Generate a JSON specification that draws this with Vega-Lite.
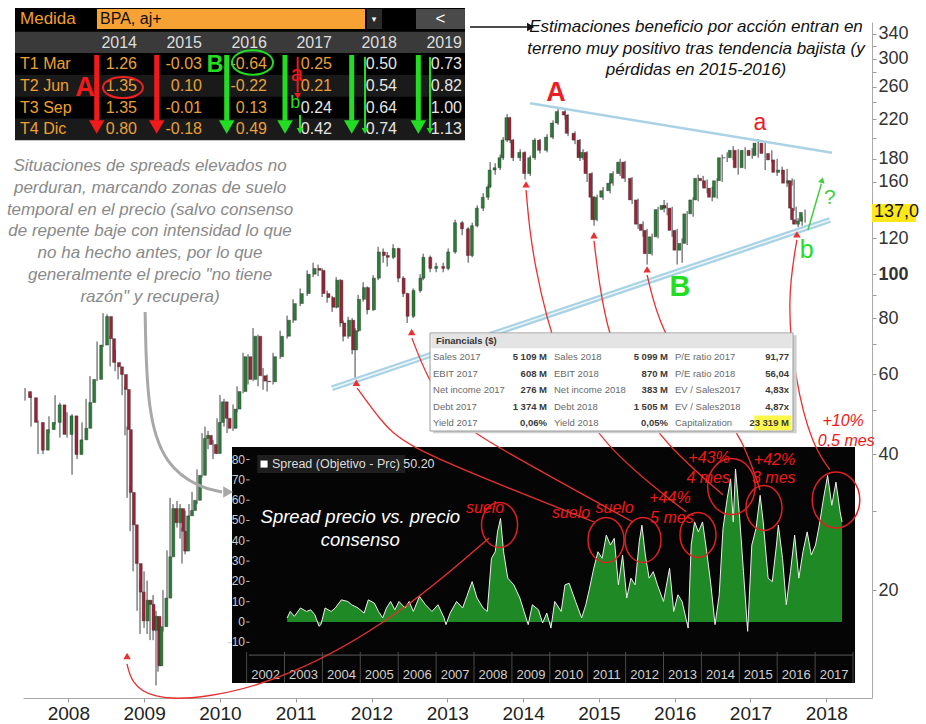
{
"$schema":"https://vega.github.io/schema/vega-lite/v6.json",
"width":849,"height":676,
"autosize":{"type":"none"},
"padding":{"left":23,"top":22,"right":54,"bottom":26},
"background":"white",
"config":{"view":{"stroke":null},"font":"Liberation Sans Narrow, Arial Narrow, Liberation Sans, sans-serif"},
"datasets":{
"candles":[
{"t":2007.429,"o":55,"h":56,"l":52.5,"c":53.3},{"t":2007.508,"o":53.3,"h":54,"l":46,"c":47},{"t":2007.6,"o":47,"h":47.5,"l":40,"c":40.8},{"t":2007.666,"o":40.8,"h":46,"l":40,"c":45.3},{"t":2007.745,"o":45.3,"h":48.5,"l":44.5,"c":47},{"t":2007.825,"o":47,"h":54,"l":46.5,"c":51.4},{"t":2007.889,"o":51.4,"h":52,"l":43.5,"c":44.2},{"t":2007.983,"o":44.2,"h":49.5,"l":43.5,"c":48.6},{"t":2008.049,"o":48.6,"h":49,"l":36,"c":39.9},{"t":2008.115,"o":39.9,"h":44,"l":39,"c":43},{"t":2008.181,"o":43,"h":47,"l":42.5,"c":45.6},{"t":2008.234,"o":45.6,"h":53,"l":45,"c":52},{"t":2008.286,"o":52,"h":59.5,"l":51.5,"c":58.5},{"t":2008.379,"o":58.5,"h":71,"l":58,"c":69.7},{"t":2008.458,"o":69.7,"h":82,"l":69,"c":80.6},{"t":2008.511,"o":80.6,"h":81.5,"l":71,"c":72},{"t":2008.551,"o":72,"h":73,"l":62.5,"c":63.8},{"t":2008.617,"o":63.8,"h":68,"l":61,"c":62.4},{"t":2008.656,"o":62.4,"h":63,"l":58.5,"c":60},{"t":2008.709,"o":60,"h":61,"l":54,"c":55.6},{"t":2008.748,"o":55.6,"h":56.5,"l":44,"c":45.3},{"t":2008.775,"o":45.3,"h":46,"l":32,"c":32.9},{"t":2008.815,"o":32.9,"h":34,"l":27,"c":27.9},{"t":2008.854,"o":27.9,"h":28.5,"l":22,"c":22.9},{"t":2008.907,"o":22.9,"h":24,"l":18,"c":19.8},{"t":2008.946,"o":19.8,"h":21,"l":16,"c":17.1},{"t":2008.999,"o":17.1,"h":22,"l":16.5,"c":19},{"t":2009.039,"o":19,"h":21,"l":16,"c":18.6},{"t":2009.078,"o":18.6,"h":19,"l":15.5,"c":16.3},{"t":2009.118,"o":16.3,"h":19.5,"l":15.5,"c":17.5},{"t":2009.157,"o":17.5,"h":18,"l":12.3,"c":13.6},{"t":2009.183,"o":13.6,"h":17.5,"l":13.2,"c":16.6},{"t":2009.249,"o":16.6,"h":20,"l":16.2,"c":19.2},{"t":2009.302,"o":19.2,"h":24.5,"l":19,"c":23.7},{"t":2009.342,"o":23.7,"h":32,"l":23.5,"c":30.3},{"t":2009.381,"o":30.3,"h":31,"l":27,"c":28.2},{"t":2009.434,"o":28.2,"h":31.5,"l":27.5,"c":30.3},{"t":2009.474,"o":30.3,"h":31,"l":26,"c":27},{"t":2009.5,"o":27,"h":27.5,"l":22.9,"c":24.4},{"t":2009.54,"o":24.4,"h":30,"l":24,"c":29.2},{"t":2009.592,"o":29.2,"h":31,"l":28.5,"c":30},{"t":2009.632,"o":30,"h":33,"l":29.5,"c":31.6},{"t":2009.698,"o":31.6,"h":37,"l":31,"c":35.9},{"t":2009.764,"o":35.9,"h":44.5,"l":35.5,"c":43.3},{"t":2009.803,"o":43.3,"h":46,"l":42,"c":44},{"t":2009.843,"o":44,"h":45,"l":41,"c":42},{"t":2009.909,"o":42,"h":43,"l":39,"c":40.1},{"t":2009.962,"o":40.1,"h":48,"l":40,"c":47},{"t":2010.001,"o":47,"h":54,"l":46.5,"c":52.2},{"t":2010.054,"o":52.2,"h":53,"l":46,"c":48},{"t":2010.094,"o":48,"h":49,"l":44.5,"c":45.6},{"t":2010.173,"o":45.6,"h":51.5,"l":45,"c":50.3},{"t":2010.226,"o":50.3,"h":56.5,"l":49.5,"c":55},{"t":2010.305,"o":55,"h":67,"l":54.5,"c":65.7},{"t":2010.371,"o":65.7,"h":66.5,"l":57,"c":58.5},{"t":2010.437,"o":58.5,"h":76,"l":58,"c":72.9},{"t":2010.503,"o":72.9,"h":73.5,"l":56.5,"c":59.6},{"t":2010.569,"o":59.6,"h":62,"l":55.5,"c":58},{"t":2010.622,"o":58,"h":60,"l":55,"c":57.8},{"t":2010.701,"o":57.8,"h":67,"l":57,"c":65.7},{"t":2010.794,"o":65.7,"h":75,"l":65,"c":72.9},{"t":2010.886,"o":72.9,"h":81,"l":72,"c":79.1},{"t":2010.965,"o":79.1,"h":88,"l":78,"c":86.1},{"t":2011.058,"o":86.1,"h":93,"l":85,"c":90.6},{"t":2011.15,"o":90.6,"h":102,"l":89.5,"c":100},{"t":2011.229,"o":100,"h":106,"l":98.5,"c":103},{"t":2011.295,"o":103,"h":105,"l":99,"c":102},{"t":2011.348,"o":102,"h":103,"l":89,"c":90.6},{"t":2011.414,"o":90.6,"h":92,"l":86.5,"c":88.8},{"t":2011.48,"o":88.8,"h":89.5,"l":82.5,"c":84.5},{"t":2011.533,"o":84.5,"h":98.5,"l":84,"c":97},{"t":2011.586,"o":97,"h":97.5,"l":76.5,"c":78},{"t":2011.625,"o":78,"h":79,"l":71,"c":72.9},{"t":2011.691,"o":72.9,"h":80.5,"l":72,"c":79.1},{"t":2011.744,"o":79.1,"h":80,"l":66.5,"c":68},{"t":2011.783,"o":68,"h":76,"l":58.5,"c":75},{"t":2011.823,"o":75,"h":90,"l":74.5,"c":88},{"t":2011.889,"o":88,"h":96,"l":87,"c":93.4},{"t":2011.942,"o":93.4,"h":94,"l":81.5,"c":83.4},{"t":2012.021,"o":83.4,"h":99.5,"l":83,"c":98},{"t":2012.087,"o":98,"h":115,"l":97,"c":112},{"t":2012.153,"o":112,"h":114,"l":106,"c":110},{"t":2012.206,"o":110,"h":112,"l":104,"c":109},{"t":2012.285,"o":109,"h":116.5,"l":108,"c":114},{"t":2012.351,"o":114,"h":114.5,"l":96,"c":98},{"t":2012.417,"o":98,"h":99,"l":89,"c":90.6},{"t":2012.47,"o":90.6,"h":91,"l":78,"c":80.7},{"t":2012.549,"o":80.7,"h":93,"l":80,"c":92},{"t":2012.641,"o":92,"h":100,"l":91,"c":98},{"t":2012.681,"o":98,"h":111,"l":97,"c":109},{"t":2012.773,"o":109,"h":110,"l":101,"c":103},{"t":2012.852,"o":103,"h":106,"l":101,"c":104},{"t":2012.945,"o":104,"h":106,"l":101,"c":103},{"t":2013.011,"o":103,"h":114,"l":102,"c":112},{"t":2013.103,"o":112,"h":132,"l":111,"c":130},{"t":2013.196,"o":130,"h":131,"l":122,"c":126},{"t":2013.275,"o":126,"h":127,"l":106,"c":110},{"t":2013.328,"o":110,"h":130,"l":109,"c":128},{"t":2013.394,"o":128,"h":142,"l":127,"c":140},{"t":2013.473,"o":140,"h":151,"l":138,"c":148},{"t":2013.539,"o":148,"h":158,"l":146,"c":156},{"t":2013.565,"o":156,"h":177,"l":155,"c":170},{"t":2013.631,"o":170,"h":176,"l":166,"c":172},{"t":2013.697,"o":172,"h":184,"l":170,"c":181},{"t":2013.737,"o":181,"h":201,"l":179,"c":198},{"t":2013.789,"o":198,"h":226,"l":196,"c":222},{"t":2013.829,"o":222,"h":223,"l":195,"c":198},{"t":2013.869,"o":198,"h":199,"l":178,"c":181},{"t":2013.961,"o":181,"h":189,"l":178,"c":186},{"t":2014.025,"o":186,"h":187,"l":162,"c":167},{"t":2014.093,"o":167,"h":183,"l":165,"c":181},{"t":2014.157,"o":181,"h":200,"l":179,"c":198},{"t":2014.223,"o":198,"h":199,"l":185,"c":188},{"t":2014.316,"o":188,"h":204,"l":186,"c":201},{"t":2014.395,"o":201,"h":219,"l":199,"c":216},{"t":2014.461,"o":216,"h":233,"l":214,"c":229},{"t":2014.554,"o":229,"h":232,"l":220,"c":225},{"t":2014.593,"o":225,"h":226,"l":202,"c":205},{"t":2014.685,"o":205,"h":207,"l":194,"c":198},{"t":2014.751,"o":198,"h":199,"l":178,"c":181},{"t":2014.791,"o":181,"h":189,"l":179,"c":186},{"t":2014.844,"o":186,"h":187,"l":160,"c":167},{"t":2014.91,"o":167,"h":168,"l":145,"c":148},{"t":2014.936,"o":148,"h":149,"l":128,"c":132},{"t":2014.976,"o":132,"h":150,"l":131,"c":148},{"t":2015.055,"o":148,"h":156,"l":146,"c":153},{"t":2015.148,"o":153,"h":162,"l":151,"c":159},{"t":2015.187,"o":159,"h":169,"l":157,"c":167},{"t":2015.28,"o":167,"h":180,"l":165,"c":177},{"t":2015.346,"o":177,"h":178,"l":160,"c":163},{"t":2015.438,"o":163,"h":164,"l":143,"c":146},{"t":2015.517,"o":146,"h":147,"l":126,"c":129},{"t":2015.583,"o":129,"h":131,"l":121,"c":125},{"t":2015.636,"o":125,"h":126,"l":105,"c":111},{"t":2015.702,"o":111,"h":123,"l":110,"c":121},{"t":2015.781,"o":121,"h":141,"l":120,"c":139},{"t":2015.86,"o":139,"h":146,"l":137,"c":142},{"t":2015.9,"o":142,"h":144,"l":135,"c":140},{"t":2015.966,"o":140,"h":141,"l":121,"c":125},{"t":2016.032,"o":125,"h":126,"l":105,"c":113},{"t":2016.098,"o":113,"h":120,"l":106,"c":117},{"t":2016.164,"o":117,"h":138,"l":116,"c":136},{"t":2016.243,"o":136,"h":148,"l":134,"c":146},{"t":2016.309,"o":146,"h":166,"l":145,"c":163},{"t":2016.375,"o":163,"h":165,"l":157,"c":161},{"t":2016.428,"o":161,"h":162,"l":151,"c":155},{"t":2016.494,"o":155,"h":156,"l":145,"c":148},{"t":2016.56,"o":148,"h":163,"l":147,"c":161},{"t":2016.626,"o":161,"h":184,"l":160,"c":181},{"t":2016.692,"o":181,"h":186,"l":177,"c":181},{"t":2016.771,"o":181,"h":192,"l":179,"c":188},{"t":2016.837,"o":188,"h":189,"l":166,"c":172},{"t":2016.929,"o":172,"h":191,"l":171,"c":188},{"t":2017.022,"o":188,"h":190,"l":180,"c":183},{"t":2017.101,"o":183,"h":199,"l":181,"c":195},{"t":2017.193,"o":195,"h":196,"l":170,"c":185},{"t":2017.282,"o":185,"h":188,"l":177,"c":179},{"t":2017.351,"o":179,"h":180,"l":165,"c":168},{"t":2017.417,"o":168,"h":173,"l":166,"c":170},{"t":2017.483,"o":170,"h":171,"l":156,"c":159},{"t":2017.549,"o":159,"h":163,"l":157,"c":161},{"t":2017.575,"o":161,"h":162,"l":138,"c":140},{"t":2017.602,"o":140,"h":141,"l":130,"c":132},{"t":2017.628,"o":132,"h":133,"l":127,"c":129},{"t":2017.681,"o":129,"h":134,"l":128,"c":131},{"t":2017.72,"o":131,"h":139,"l":130,"c":137}
],
"trendU":[{"t":2014.092,"p":238.9},{"t":2018.075,"p":185.7}],
"trendD":[{"t":2011.479,"p":55.93},{"t":2018.049,"p":131.8}],
"arrows":[
{"a":1,"i":0,"t":2013.551,"p":26.09},{"a":1,"i":1,"t":2012.376,"p":17.6},{"a":1,"i":2,"t":2010.925,"p":12.78},{"a":1,"i":3,"t":2009.738,"p":11.43},{"a":1,"i":4,"t":2009.078,"p":11.54},{"a":1,"i":5,"t":2008.828,"p":12.53},{"a":1,"i":6,"t":2008.775,"p":13.73},
{"a":2,"i":0,"t":2011.811,"p":56.0},{"a":2,"i":1,"t":2012.114,"p":47.6},{"a":2,"i":2,"t":2012.418,"p":41.9},{"a":2,"i":3,"t":2013.697,"p":34.2},{"a":2,"i":4,"t":2014.937,"p":28.3},
{"a":3,"i":0,"t":2012.533,"p":72.2},{"a":3,"i":1,"t":2012.745,"p":58.3},{"a":3,"i":2,"t":2013.1,"p":47.6},{"a":3,"i":3,"t":2013.601,"p":41.9},{"a":3,"i":4,"t":2015.448,"p":28.3},
{"a":4,"i":0,"t":2014.039,"p":153.6},{"a":4,"i":1,"t":2014.118,"p":107.5},{"a":4,"i":2,"t":2014.487,"p":61.4},{"a":4,"i":3,"t":2015.015,"p":41.9},{"a":4,"i":4,"t":2016.15,"p":29.8},
{"a":5,"i":0,"t":2014.935,"p":118.5},{"a":5,"i":1,"t":2015.08,"p":75.3},{"a":5,"i":2,"t":2015.475,"p":52.7},{"a":5,"i":3,"t":2015.884,"p":41.9},{"a":5,"i":4,"t":2016.636,"p":32.5},
{"a":6,"i":0,"t":2015.636,"p":99.6},{"a":6,"i":1,"t":2015.807,"p":75.3},{"a":6,"i":2,"t":2016.334,"p":55.4},{"a":6,"i":3,"t":2016.862,"p":45.2},{"a":6,"i":4,"t":2017.126,"p":33.3},
{"a":7,"i":0,"t":2017.612,"p":119.1},{"a":7,"i":1,"t":2017.48,"p":87.7},{"a":7,"i":2,"t":2017.586,"p":58.3},{"a":7,"i":3,"t":2017.811,"p":41.9},{"a":7,"i":4,"t":2018.048,"p":36.9}
],
"heads":[{"t":2008.775,"p":14.3},{"t":2011.8,"p":57.5},{"t":2012.53,"p":74.5},{"t":2014.039,"p":158},{"t":2014.935,"p":122},{"t":2015.636,"p":102.5},{"t":2017.612,"p":122.5}],
"grey":[{"i":0,"t":2009.013,"p":82.5},{"i":1,"t":2009.039,"p":49.3},{"i":2,"t":2009.276,"p":37.8},{"i":3,"t":2009.738,"p":33.65},{"i":4,"t":2010.028,"p":32.97}],
"spread":[
{"t":2003.07,"v":2},{"t":2003.15,"v":5.2},{"t":2003.26,"v":2.8},{"t":2003.42,"v":6.9},{"t":2003.58,"v":5.2},{"t":2003.69,"v":6},{"t":2003.8,"v":3.6},{"t":2003.91,"v":-2.1},{"t":2003.96,"v":-1.3},{"t":2004.07,"v":6.9},{"t":2004.23,"v":5.2},{"t":2004.34,"v":6.9},{"t":2004.5,"v":10.9},{"t":2004.67,"v":10.1},{"t":2004.77,"v":8.5},{"t":2004.94,"v":6.9},{"t":2005.1,"v":4.4},{"t":2005.21,"v":10.9},{"t":2005.37,"v":9.3},{"t":2005.48,"v":5.2},{"t":2005.59,"v":2},{"t":2005.69,"v":6.9},{"t":2005.8,"v":10.1},{"t":2005.91,"v":6},{"t":2006.02,"v":10.1},{"t":2006.18,"v":6.9},{"t":2006.29,"v":10.1},{"t":2006.4,"v":5.2},{"t":2006.56,"v":12.6},{"t":2006.72,"v":8.5},{"t":2006.89,"v":5.2},{"t":2007.05,"v":8.5},{"t":2007.21,"v":2},{"t":2007.26,"v":-1.3},{"t":2007.37,"v":4.4},{"t":2007.54,"v":10.1},{"t":2007.7,"v":6.9},{"t":2007.81,"v":12.6},{"t":2007.95,"v":19.9},{"t":2008.08,"v":11.8},{"t":2008.24,"v":6.9},{"t":2008.35,"v":5.2},{"t":2008.46,"v":31.4},{"t":2008.56,"v":34.6},{"t":2008.62,"v":44.4},{"t":2008.7,"v":51},{"t":2008.78,"v":34.6},{"t":2008.89,"v":21.6},{"t":2009.05,"v":18.3},{"t":2009.21,"v":11.8},{"t":2009.32,"v":5.2},{"t":2009.43,"v":-1.3},{"t":2009.54,"v":8.5},{"t":2009.7,"v":6},{"t":2009.81,"v":-0.5},{"t":2009.92,"v":4.4},{"t":2010.03,"v":-3},{"t":2010.13,"v":10.1},{"t":2010.3,"v":5.2},{"t":2010.4,"v":18.3},{"t":2010.51,"v":19.1},{"t":2010.68,"v":10.1},{"t":2010.84,"v":2},{"t":2010.95,"v":8.5},{"t":2011.05,"v":16.7},{"t":2011.16,"v":26.5},{"t":2011.27,"v":34.6},{"t":2011.38,"v":31.4},{"t":2011.49,"v":42.8},{"t":2011.6,"v":37.9},{"t":2011.7,"v":41.2},{"t":2011.81,"v":18.3},{"t":2011.92,"v":33},{"t":2012.03,"v":11.8},{"t":2012.14,"v":21.6},{"t":2012.25,"v":18.3},{"t":2012.36,"v":39.5},{"t":2012.43,"v":47.7},{"t":2012.52,"v":33},{"t":2012.62,"v":21.6},{"t":2012.73,"v":24.8},{"t":2012.84,"v":18.3},{"t":2013.0,"v":10.1},{"t":2013.16,"v":26.5},{"t":2013.27,"v":5.2},{"t":2013.38,"v":13.4},{"t":2013.49,"v":10.1},{"t":2013.65,"v":-3},{"t":2013.73,"v":37.9},{"t":2013.82,"v":49.3},{"t":2013.92,"v":44.4},{"t":2014.03,"v":49.3},{"t":2014.14,"v":34.6},{"t":2014.25,"v":18.3},{"t":2014.36,"v":-1.3},{"t":2014.47,"v":13.4},{"t":2014.57,"v":46},{"t":2014.68,"v":60.7},{"t":2014.77,"v":70.5},{"t":2014.84,"v":49.3},{"t":2014.9,"v":75.4},{"t":2015.01,"v":51},{"t":2015.11,"v":24.8},{"t":2015.22,"v":-4.6},{"t":2015.33,"v":37.9},{"t":2015.44,"v":46},{"t":2015.55,"v":62.4},{"t":2015.63,"v":49.3},{"t":2015.76,"v":21.6},{"t":2015.87,"v":19.9},{"t":2015.98,"v":37.9},{"t":2016.03,"v":47.7},{"t":2016.14,"v":31.4},{"t":2016.24,"v":8.5},{"t":2016.35,"v":24.8},{"t":2016.46,"v":42.8},{"t":2016.57,"v":21.6},{"t":2016.68,"v":34.6},{"t":2016.79,"v":44.4},{"t":2016.9,"v":33},{"t":2017.01,"v":37.9},{"t":2017.11,"v":47.7},{"t":2017.22,"v":60.7},{"t":2017.33,"v":72.2},{"t":2017.44,"v":57.5},{"t":2017.55,"v":68.9},{"t":2017.66,"v":54.2},{"t":2017.71,"v":49.3}
],
"iyl":[{"val":80},{"val":70},{"val":60},{"val":50},{"val":40},{"val":30},{"val":20},{"val":10},{"val":0},{"val":-10}],
"iyears":[{"yr":2002},{"yr":2003},{"yr":2004},{"yr":2005},{"yr":2006},{"yr":2007},{"yr":2008},{"yr":2009},{"yr":2010},{"yr":2011},{"yr":2012},{"yr":2013},{"yr":2014},{"yr":2015},{"yr":2016},{"yr":2017}],
"isep":[{"yr":2002},{"yr":2003},{"yr":2004},{"yr":2005},{"yr":2006},{"yr":2007},{"yr":2008},{"yr":2009},{"yr":2010},{"yr":2011},{"yr":2012},{"yr":2013},{"yr":2014},{"yr":2015},{"yr":2016},{"yr":2017},{"yr":2018}],
"circS":[{"t":2008.673,"v":47.8},{"t":2011.483,"v":40.4},{"t":2012.459,"v":40.4},{"t":2013.91,"v":42.9},{"t":2015.652,"v":56.2}],
"circL":[{"t":2014.791,"v":66.7},{"t":2017.551,"v":60.1}],
"redtxt":[{"t":2008.29,"v":56.2,"txt":"suelo"},{"t":2010.56,"v":53.7,"txt":"suelo"},{"t":2011.71,"v":56.2,"txt":"suelo"},{"t":2013.17,"v":61.1,"txt":"+44%"},{"t":2013.22,"v":51.2,"txt":"5 mes"},{"t":2014.2,"v":80.8,"txt":"+43%"},{"t":2014.18,"v":70.9,"txt":"4 mes"},{"t":2015.93,"v":79.8,"txt":"+42%"},{"t":2015.91,"v":70.9,"txt":"3 mes"},{"t":2017.74,"v":99,"txt":"+10%"},{"t":2017.82,"v":89.2,"txt":"0,5 mes"}],
"fin":[
{"g":1,"r":1,"label":"Sales 2017","value":"5 109 M"},{"g":2,"r":1,"label":"Sales 2018","value":"5 099 M"},{"g":3,"r":1,"label":"P/E ratio 2017","value":"91,77"},
{"g":1,"r":2,"label":"EBIT 2017","value":"608 M"},{"g":2,"r":2,"label":"EBIT 2018","value":"870 M"},{"g":3,"r":2,"label":"P/E ratio 2018","value":"56,04"},
{"g":1,"r":3,"label":"Net income 2017","value":"276 M"},{"g":2,"r":3,"label":"Net income 2018","value":"383 M"},{"g":3,"r":3,"label":"EV / Sales2017","value":"4,83x"},
{"g":1,"r":4,"label":"Debt 2017","value":"1 374 M"},{"g":2,"r":4,"label":"Debt 2018","value":"1 505 M"},{"g":3,"r":4,"label":"EV / Sales2018","value":"4,87x"},
{"g":1,"r":5,"label":"Yield 2017","value":"0,06%"},{"g":2,"r":5,"label":"Yield 2018","value":"0,05%"},{"g":3,"r":5,"label":"Capitalization","value":"23 319 M"}
],
"tyears":[{"yr":2014},{"yr":2015},{"yr":2016},{"yr":2017},{"yr":2018},{"yr":2019}],
"trows":[{"q":1,"lab":"T1 Mar"},{"q":2,"lab":"T2 Jun"},{"q":3,"lab":"T3 Sep"},{"q":4,"lab":"T4 Dic"}],
"talt":[{"q0":1.5,"q1":2.5},{"q0":3.5,"q1":4.5}],
"tbl":[
{"yr":2014,"q":1,"val":"1.26"},{"yr":2015,"q":1,"val":"-0.03"},{"yr":2016,"q":1,"val":"-0.64"},{"yr":2017,"q":1,"val":"0.25"},{"yr":2018,"q":1,"val":"0.50"},{"yr":2019,"q":1,"val":"0.73"},
{"yr":2014,"q":2,"val":"1.35"},{"yr":2015,"q":2,"val":"0.10"},{"yr":2016,"q":2,"val":"-0.22"},{"yr":2017,"q":2,"val":"0.21"},{"yr":2018,"q":2,"val":"0.54"},{"yr":2019,"q":2,"val":"0.82"},
{"yr":2014,"q":3,"val":"1.35"},{"yr":2015,"q":3,"val":"-0.01"},{"yr":2016,"q":3,"val":"0.13"},{"yr":2017,"q":3,"val":"0.24"},{"yr":2018,"q":3,"val":"0.64"},{"yr":2019,"q":3,"val":"1.00"},
{"yr":2014,"q":4,"val":"0.80"},{"yr":2015,"q":4,"val":"-0.18"},{"yr":2016,"q":4,"val":"0.49"},{"yr":2017,"q":4,"val":"0.42"},{"yr":2018,"q":4,"val":"0.74"},{"yr":2019,"q":4,"val":"1.13"}
],
"thickRed":[{"x":2013.334},{"x":2014.257}],
"thickGreen":[{"x":2015.334},{"x":2016.231},{"x":2017.257},{"x":2018.282}],
"thinGreen":[{"x":2017.462},{"x":2018.462}]
},
"layer":[
{"data":{"name":"candles"},"mark":{"type":"rule","color":"#444444","strokeWidth":1},
"encoding":{
"x":{"field":"t","type":"quantitative","scale":{"domain":[2007.402,2018.603],"nice":false,"zero":false},
"axis":{"orient":"bottom","values":[2008,2009,2010,2011,2012,2013,2014,2015,2016,2017,2018],"format":"d","title":null,"labelFontSize":19,"labelColor":"#222222","tickColor":"#999999","domainColor":"#aaaaaa","tickSize":4,"labelPadding":2,"grid":false,"labelFlush":false,"labelOverlap":false}},
"y":{"field":"l","type":"quantitative","scale":{"type":"log","domain":[11.544,361.4],"nice":false},
"axis":{"orient":"right","values":[340,320,300,280,260,240,220,200,180,160,140,120,100,90,80,70,60,50,40,30,20],"labelExpr":"indexof([340,300,260,220,180,160,120,100,80,60,40,20], datum.value) >= 0 ? datum.label : ''","title":null,"labelFontSize":18,"labelColor":"#333333","tickColor":"#999999","domainColor":"#aaaaaa","tickSize":4,"labelPadding":2,"grid":false,"labelOverlap":false,"labelFlush":false,"labelFontWeight":{"condition":{"test":"datum.value == 100","value":"bold"},"value":"normal"}}},
"y2":{"field":"h"}}},
{"data":{"name":"candles"},"mark":{"type":"bar","size":3,"stroke":"#2a2a2a","strokeWidth":0.4},
"encoding":{
"x":{"field":"t","type":"quantitative","scale":{"domain":[2007.402,2018.603],"nice":false,"zero":false},"axis":null},
"y":{"field":"o","type":"quantitative","scale":{"type":"log","domain":[11.544,361.4],"nice":false},"axis":null},
"y2":{"field":"c"},
"color":{"condition":{"test":"datum.c >= datum.o","value":"#2a7d36"},"value":"#9c2336"}}},
{"data":{"name":"trendU"},"mark":{"type":"line","color":"#a9d3e4","strokeWidth":2.5},
"encoding":{"x":{"field":"t","type":"quantitative","scale":{"domain":[2007.402,2018.603],"nice":false,"zero":false},"axis":null},"y":{"field":"p","type":"quantitative","scale":{"type":"log","domain":[11.544,361.4],"nice":false},"axis":null}}},
{"data":{"name":"trendD"},"mark":{"type":"line","color":"#a9d3e4","strokeWidth":6},
"encoding":{"x":{"field":"t","type":"quantitative","scale":{"domain":[2007.402,2018.603],"nice":false,"zero":false},"axis":null},"y":{"field":"p","type":"quantitative","scale":{"type":"log","domain":[11.544,361.4],"nice":false},"axis":null}}},
{"data":{"name":"trendD"},"mark":{"type":"line","color":"#eef7fb","strokeWidth":1.5},
"encoding":{"x":{"field":"t","type":"quantitative","scale":{"domain":[2007.402,2018.603],"nice":false,"zero":false},"axis":null},"y":{"field":"p","type":"quantitative","scale":{"type":"log","domain":[11.544,361.4],"nice":false},"axis":null}}},
{"data":{"values":[{}]},"mark":{"type":"rect","color":"#ffe81a"},
"encoding":{"x":{"datum":2018.603,"type":"quantitative","scale":{"domain":[2007.402,2018.603],"nice":false,"zero":false},"axis":null},"x2":{"datum":2019.183},"y":{"datum":130.5,"type":"quantitative","scale":{"type":"log","domain":[11.544,361.4],"nice":false},"axis":null},"y2":{"datum":143.0}}},
{"data":{"values":[{}]},"mark":{"type":"text","align":"left","baseline":"middle","dx":2,"fontSize":18,"color":"#111111"},
"encoding":{"x":{"datum":2018.603,"type":"quantitative","scale":{"domain":[2007.402,2018.603],"nice":false,"zero":false},"axis":null},"y":{"datum":137,"type":"quantitative","scale":{"type":"log","domain":[11.544,361.4],"nice":false},"axis":null},"text":{"value":"137,0"}}},
{
"layer":[
{"data":{"values":[{}]},"mark":{"type":"rect","color":"#050505"},
"encoding":{"x":{"datum":2001.615,"type":"quantitative","scale":{"domain":[1996.1,2018.501],"nice":false,"zero":false},"axis":null},"x2":{"datum":2018.053},"y":{"datum":-30,"type":"quantitative","scale":{"domain":[-37.44,295.57],"nice":false,"zero":false},"axis":null},"y2":{"datum":86.2}}},
{"data":{"values":[{}]},"mark":{"type":"rect","color":"#1e1e1e"},
"encoding":{"x":{"datum":2002.28,"type":"quantitative","scale":{"domain":[1996.1,2018.501],"nice":false,"zero":false},"axis":null},"x2":{"datum":2006.19},"y":{"datum":73.4,"type":"quantitative","scale":{"domain":[-37.44,295.57],"nice":false,"zero":false},"axis":null},"y2":{"datum":82.3}}},
{"data":{"values":[{}]},"mark":{"type":"rule","color":"#5a5a5a","strokeWidth":1},
"encoding":{"x":{"datum":2002.06,"type":"quantitative","scale":{"domain":[1996.1,2018.501],"nice":false,"zero":false},"axis":null},"x2":{"datum":2018.0},"y":{"datum":-16.3,"type":"quantitative","scale":{"domain":[-37.44,295.57],"nice":false,"zero":false},"axis":null}}},
{"data":{"name":"isep"},"mark":{"type":"rule","color":"#4a4a4a","strokeWidth":1},
"encoding":{"x":{"field":"yr","type":"quantitative","scale":{"domain":[1996.1,2018.501],"nice":false,"zero":false},"axis":null},"y":{"datum":-14.8,"type":"quantitative","scale":{"domain":[-37.44,295.57],"nice":false,"zero":false},"axis":null},"y2":{"datum":-30}}},
{"data":{"name":"spread"},"mark":{"type":"area","color":"#1f8a25"},
"encoding":{"x":{"field":"t","type":"quantitative","scale":{"domain":[1996.1,2018.501],"nice":false,"zero":false},"axis":null},"y":{"field":"v","type":"quantitative","scale":{"domain":[-37.44,295.57],"nice":false,"zero":false},"axis":null},"y2":{"datum":0}}},
{"data":{"name":"spread"},"mark":{"type":"line","color":"#eeeeee","strokeWidth":1},
"encoding":{"x":{"field":"t","type":"quantitative","scale":{"domain":[1996.1,2018.501],"nice":false,"zero":false},"axis":null},"y":{"field":"v","type":"quantitative","scale":{"domain":[-37.44,295.57],"nice":false,"zero":false},"axis":null}}},
{"data":{"name":"iyl"},"mark":{"type":"text","align":"right","baseline":"middle","fontSize":12,"color":"#cccccc"},
"encoding":{"x":{"datum":2001.958,"type":"quantitative","scale":{"domain":[1996.1,2018.501],"nice":false,"zero":false},"axis":null},"y":{"field":"val","type":"quantitative","scale":{"domain":[-37.44,295.57],"nice":false,"zero":false},"axis":null},"text":{"field":"val"}}},
{"data":{"name":"iyl"},"mark":{"type":"rule","color":"#bbbbbb","strokeWidth":1},
"encoding":{"x":{"datum":2001.99,"type":"quantitative","scale":{"domain":[1996.1,2018.501],"nice":false,"zero":false},"axis":null},"x2":{"datum":2002.08},"y":{"field":"val","type":"quantitative","scale":{"domain":[-37.44,295.57],"nice":false,"zero":false},"axis":null}}},
{"data":{"name":"iyears"},"mark":{"type":"text","align":"center","baseline":"middle","fontSize":13,"color":"#d0d0d0","dx":19},
"encoding":{"x":{"field":"yr","type":"quantitative","scale":{"domain":[1996.1,2018.501],"nice":false,"zero":false},"axis":null},"y":{"datum":-26.1,"type":"quantitative","scale":{"domain":[-37.44,295.57],"nice":false,"zero":false},"axis":null},"text":{"field":"yr"}}},
{"data":{"values":[{}]},"mark":{"type":"point","shape":"square","filled":true,"color":"#ffffff","size":50,"opacity":1},
"encoding":{"x":{"datum":2002.46,"type":"quantitative","scale":{"domain":[1996.1,2018.501],"nice":false,"zero":false},"axis":null},"y":{"datum":77.8,"type":"quantitative","scale":{"domain":[-37.44,295.57],"nice":false,"zero":false},"axis":null}}},
{"data":{"values":[{}]},"mark":{"type":"text","align":"left","baseline":"middle","fontSize":12.5,"color":"#dddddd"},
"encoding":{"x":{"datum":2002.67,"type":"quantitative","scale":{"domain":[1996.1,2018.501],"nice":false,"zero":false},"axis":null},"y":{"datum":77.8,"type":"quantitative","scale":{"domain":[-37.44,295.57],"nice":false,"zero":false},"axis":null},"text":{"value":"Spread (Objetivo - Prc) 50.20"}}},
{"data":{"values":[{}]},"mark":{"type":"text","align":"center","baseline":"middle","fontSize":18.5,"fontStyle":"italic","color":"#ffffff","lineHeight":23},
"encoding":{"x":{"datum":2005.0,"type":"quantitative","scale":{"domain":[1996.1,2018.501],"nice":false,"zero":false},"axis":null},"y":{"datum":51.7,"type":"quantitative","scale":{"domain":[-37.44,295.57],"nice":false,"zero":false},"axis":null},"text":{"value":["Spread precio vs. precio","consenso"]}}},
{"data":{"name":"circS"},"mark":{"type":"point","shape":"M0,-1A0.8,1 0 1,1 0,1A0.8,1 0 1,1 0,-1Z","filled":false,"color":"#e02020","strokeWidth":1.5,"size":2025,"opacity":1},
"encoding":{"x":{"field":"t","type":"quantitative","scale":{"domain":[1996.1,2018.501],"nice":false,"zero":false},"axis":null},"y":{"field":"v","type":"quantitative","scale":{"domain":[-37.44,295.57],"nice":false,"zero":false},"axis":null}}},
{"data":{"name":"circL"},"mark":{"type":"point","shape":"M0,-1A0.85,1 0 1,1 0,1A0.85,1 0 1,1 0,-1Z","filled":false,"color":"#e02020","strokeWidth":1.5,"size":3136,"opacity":1},
"encoding":{"x":{"field":"t","type":"quantitative","scale":{"domain":[1996.1,2018.501],"nice":false,"zero":false},"axis":null},"y":{"field":"v","type":"quantitative","scale":{"domain":[-37.44,295.57],"nice":false,"zero":false},"axis":null}}},
{"data":{"name":"redtxt"},"mark":{"type":"text","align":"center","baseline":"middle","fontSize":16,"fontStyle":"italic","color":"#f01818"},
"encoding":{"x":{"field":"t","type":"quantitative","scale":{"domain":[1996.1,2018.501],"nice":false,"zero":false},"axis":null},"y":{"field":"v","type":"quantitative","scale":{"domain":[-37.44,295.57],"nice":false,"zero":false},"axis":null},"text":{"field":"txt"}}}
]
},
{
"layer":[
{"data":{"name":"arrows"},"mark":{"type":"line","color":"#e83030","strokeWidth":1.3,"interpolate":"basis"},
"encoding":{"x":{"field":"t","type":"quantitative","scale":{"domain":[2007.402,2018.603],"nice":false,"zero":false},"axis":null},"y":{"field":"p","type":"quantitative","scale":{"type":"log","domain":[11.544,361.4],"nice":false},"axis":null},"detail":{"field":"a","type":"nominal"},"order":{"field":"i","type":"quantitative"}}},
{"data":{"name":"heads"},"mark":{"type":"point","shape":"triangle-up","filled":true,"color":"#e83030","size":55,"opacity":1},
"encoding":{"x":{"field":"t","type":"quantitative","scale":{"domain":[2007.402,2018.603],"nice":false,"zero":false},"axis":null},"y":{"field":"p","type":"quantitative","scale":{"type":"log","domain":[11.544,361.4],"nice":false},"axis":null}}},
{"data":{"name":"grey"},"mark":{"type":"line","color":"#a8a8a8","strokeWidth":3,"interpolate":"basis"},
"encoding":{"x":{"field":"t","type":"quantitative","scale":{"domain":[2007.402,2018.603],"nice":false,"zero":false},"axis":null},"y":{"field":"p","type":"quantitative","scale":{"type":"log","domain":[11.544,361.4],"nice":false},"axis":null},"order":{"field":"i","type":"quantitative"}}},
{"data":{"values":[{}]},"mark":{"type":"point","shape":"triangle-right","filled":true,"color":"#a8a8a8","size":130,"opacity":1},
"encoding":{"x":{"datum":2010.108,"type":"quantitative","scale":{"domain":[2007.402,2018.603],"nice":false,"zero":false},"axis":null},"y":{"datum":32.97,"type":"quantitative","scale":{"type":"log","domain":[11.544,361.4],"nice":false},"axis":null}}},
{"data":{"values":[{}]},"mark":{"type":"rule","color":"#111111","strokeWidth":1.5},
"encoding":{"x":{"datum":2013.3,"type":"quantitative","scale":{"domain":[2007.402,2018.603],"nice":false,"zero":false},"axis":null},"x2":{"datum":2014.05},"y":{"datum":352.3,"type":"quantitative","scale":{"type":"log","domain":[11.544,361.4],"nice":false},"axis":null}}},
{"data":{"values":[{}]},"mark":{"type":"point","shape":"triangle-right","filled":true,"color":"#111111","size":70,"opacity":1},
"encoding":{"x":{"datum":2014.1,"type":"quantitative","scale":{"domain":[2007.402,2018.603],"nice":false,"zero":false},"axis":null},"y":{"datum":352.3,"type":"quantitative","scale":{"type":"log","domain":[11.544,361.4],"nice":false},"axis":null}}},
{"data":{"values":[{}]},"mark":{"type":"text","align":"center","baseline":"top","fontSize":17,"fontStyle":"italic","color":"#8a8a8a","lineHeight":21.8},
"encoding":{"x":{"datum":2009.078,"type":"quantitative","scale":{"domain":[2007.402,2018.603],"nice":false,"zero":false},"axis":null},"y":{"datum":180.8,"type":"quantitative","scale":{"type":"log","domain":[11.544,361.4],"nice":false},"axis":null},
"text":{"value":["Situaciones de spreads elevados no","perduran, marcando zonas de suelo","temporal en el precio (salvo consenso","de repente baje con intensidad lo que","no ha hecho antes, por lo que","generalmente el precio \"no tiene","razón\" y recupera)"]}}},
{"data":{"values":[{}]},"mark":{"type":"text","align":"center","baseline":"middle","fontSize":17,"fontStyle":"italic","color":"#111111","lineHeight":21.5},
"encoding":{"x":{"datum":2016.281,"type":"quantitative","scale":{"domain":[2007.402,2018.603],"nice":false,"zero":false},"axis":null},"y":{"datum":352.3,"type":"quantitative","scale":{"type":"log","domain":[11.544,361.4],"nice":false},"axis":null},
"text":{"value":["Estimaciones beneficio por acción entran en","terreno muy positivo tras tendencia bajista (y","pérdidas en 2015-2016)"]}}},
{"data":{"values":[{}]},"mark":{"type":"text","align":"center","baseline":"middle","fontSize":27,"fontWeight":"bold","color":"#ee1c25"},
"encoding":{"x":{"datum":2014.434,"type":"quantitative","scale":{"domain":[2007.402,2018.603],"nice":false,"zero":false},"axis":null},"y":{"datum":251.7,"type":"quantitative","scale":{"type":"log","domain":[11.544,361.4],"nice":false},"axis":null},"text":{"value":"A"}}},
{"data":{"values":[{}]},"mark":{"type":"text","align":"center","baseline":"middle","fontSize":23,"color":"#ee1c25"},
"encoding":{"x":{"datum":2017.125,"type":"quantitative","scale":{"domain":[2007.402,2018.603],"nice":false,"zero":false},"axis":null},"y":{"datum":215.7,"type":"quantitative","scale":{"type":"log","domain":[11.544,361.4],"nice":false},"axis":null},"text":{"value":"a"}}},
{"data":{"values":[{}]},"mark":{"type":"text","align":"center","baseline":"middle","fontSize":29,"fontWeight":"bold","color":"#22dd22"},
"encoding":{"x":{"datum":2016.07,"type":"quantitative","scale":{"domain":[2007.402,2018.603],"nice":false,"zero":false},"axis":null},"y":{"datum":93.9,"type":"quantitative","scale":{"type":"log","domain":[11.544,361.4],"nice":false},"axis":null},"text":{"value":"B"}}},
{"data":{"values":[{}]},"mark":{"type":"text","align":"center","baseline":"middle","fontSize":25,"color":"#22dd22"},
"encoding":{"x":{"datum":2017.741,"type":"quantitative","scale":{"domain":[2007.402,2018.603],"nice":false,"zero":false},"axis":null},"y":{"datum":113.1,"type":"quantitative","scale":{"type":"log","domain":[11.544,361.4],"nice":false},"axis":null},"text":{"value":"b"}}},
{"data":{"values":[{}]},"mark":{"type":"text","align":"center","baseline":"middle","fontSize":21,"color":"#44cc44"},
"encoding":{"x":{"datum":2018.048,"type":"quantitative","scale":{"domain":[2007.402,2018.603],"nice":false,"zero":false},"axis":null},"y":{"datum":147.2,"type":"quantitative","scale":{"type":"log","domain":[11.544,361.4],"nice":false},"axis":null},"text":{"value":"?"}}},
{"data":{"values":[{}]},"mark":{"type":"rule","color":"#44cc44","strokeWidth":1.5},
"encoding":{"x":{"datum":2017.758,"type":"quantitative","scale":{"domain":[2007.402,2018.603],"nice":false,"zero":false},"axis":null},"x2":{"datum":2017.935},"y":{"datum":125.3,"type":"quantitative","scale":{"type":"log","domain":[11.544,361.4],"nice":false},"axis":null},"y2":{"datum":158.5}}},
{"data":{"values":[{}]},"mark":{"type":"point","shape":"triangle-up","filled":true,"color":"#44cc44","size":45,"angle":16,"opacity":1},
"encoding":{"x":{"datum":2017.945,"type":"quantitative","scale":{"domain":[2007.402,2018.603],"nice":false,"zero":false},"axis":null},"y":{"datum":161.5,"type":"quantitative","scale":{"type":"log","domain":[11.544,361.4],"nice":false},"axis":null}}}
]
},
{
"layer":[
{"data":{"values":[{}]},"mark":{"type":"rect","color":"#cfcfcf"},
"encoding":{"x":{"datum":1.025,"type":"quantitative","scale":{"domain":[-2.364,4.653],"nice":false,"zero":false},"axis":null},"x2":{"datum":4.03},"y":{"datum":-0.35,"type":"quantitative","scale":{"domain":[-19.45,21.77],"nice":false,"zero":false,"reverse":true},"axis":null},"y2":{"datum":5.62}}},
{"data":{"values":[{}]},"mark":{"type":"rect","fill":"#ffffff","stroke":"#9a9a9a","strokeWidth":1},
"encoding":{"x":{"datum":1,"type":"quantitative","scale":{"domain":[-2.364,4.653],"nice":false,"zero":false},"axis":null},"x2":{"datum":4},"y":{"datum":-0.49,"type":"quantitative","scale":{"domain":[-19.45,21.77],"nice":false,"zero":false,"reverse":true},"axis":null},"y2":{"datum":5.49}}},
{"data":{"values":[{}]},"mark":{"type":"rect","color":"#e4e4e4"},
"encoding":{"x":{"datum":1.01,"type":"quantitative","scale":{"domain":[-2.364,4.653],"nice":false,"zero":false},"axis":null},"x2":{"datum":3.99},"y":{"datum":-0.42,"type":"quantitative","scale":{"domain":[-19.45,21.77],"nice":false,"zero":false,"reverse":true},"axis":null},"y2":{"datum":0.45}}},
{"data":{"values":[{}]},"mark":{"type":"rect","color":"#fff84a"},
"encoding":{"x":{"datum":3.68,"type":"quantitative","scale":{"domain":[-2.364,4.653],"nice":false,"zero":false},"axis":null},"x2":{"datum":3.985},"y":{"datum":4.55,"type":"quantitative","scale":{"domain":[-19.45,21.77],"nice":false,"zero":false,"reverse":true},"axis":null},"y2":{"datum":5.45}}},
{"data":{"values":[{}]},"mark":{"type":"text","align":"left","baseline":"middle","fontSize":9.5,"fontWeight":"bold","color":"#333333","dx":6},
"encoding":{"x":{"datum":1,"type":"quantitative","scale":{"domain":[-2.364,4.653],"nice":false,"zero":false},"axis":null},"y":{"datum":0,"type":"quantitative","scale":{"domain":[-19.45,21.77],"nice":false,"zero":false,"reverse":true},"axis":null},"text":{"value":"Financials ($)"}}},
{"data":{"name":"fin"},"mark":{"type":"text","align":"left","baseline":"middle","fontSize":9.5,"color":"#6a6a6a","dx":3},
"encoding":{"x":{"field":"g","type":"quantitative","scale":{"domain":[-2.364,4.653],"nice":false,"zero":false},"axis":null},"y":{"field":"r","type":"quantitative","scale":{"domain":[-19.45,21.77],"nice":false,"zero":false,"reverse":true},"axis":null},"text":{"field":"label"}}},
{"data":{"name":"fin"},"mark":{"type":"text","align":"right","baseline":"middle","fontSize":9.5,"fontWeight":"bold","color":"#3a3a3a","dx":117},
"encoding":{"x":{"field":"g","type":"quantitative","scale":{"domain":[-2.364,4.653],"nice":false,"zero":false},"axis":null},"y":{"field":"r","type":"quantitative","scale":{"domain":[-19.45,21.77],"nice":false,"zero":false,"reverse":true},"axis":null},"text":{"field":"value"}}}
]
},
{
"layer":[
{"data":{"values":[{}]},"mark":{"type":"rect","color":"#000000"},
"encoding":{"x":{"datum":2012.077,"type":"quantitative","scale":{"domain":[2012.2,2025.262],"nice":false,"zero":false},"axis":null},"x2":{"datum":2019.0},"y":{"datum":-1.59,"type":"quantitative","scale":{"domain":[-0.9447,30.207],"nice":false,"zero":false,"reverse":true},"axis":null},"y2":{"datum":4.493}}},
{"data":{"values":[{}]},"mark":{"type":"rect","color":"#3a3a3a"},
"encoding":{"x":{"datum":2012.077,"type":"quantitative","scale":{"domain":[2012.2,2025.262],"nice":false,"zero":false},"axis":null},"x2":{"datum":2019.0},"y":{"datum":-0.5,"type":"quantitative","scale":{"domain":[-0.9447,30.207],"nice":false,"zero":false,"reverse":true},"axis":null},"y2":{"datum":0.48}}},
{"data":{"name":"talt"},"mark":{"type":"rect","color":"#1a1a1a"},
"encoding":{"x":{"datum":2012.077,"type":"quantitative","scale":{"domain":[2012.2,2025.262],"nice":false,"zero":false},"axis":null},"x2":{"datum":2019.0},"y":{"field":"q0","type":"quantitative","scale":{"domain":[-0.9447,30.207],"nice":false,"zero":false,"reverse":true},"axis":null},"y2":{"field":"q1"}}},
{"data":{"values":[{}]},"mark":{"type":"rect","color":"#f7a234"},
"encoding":{"x":{"datum":2013.338,"type":"quantitative","scale":{"domain":[2012.2,2025.262],"nice":false,"zero":false},"axis":null},"x2":{"datum":2017.462},"y":{"datum":-1.544,"type":"quantitative","scale":{"domain":[-0.9447,30.207],"nice":false,"zero":false,"reverse":true},"axis":null},"y2":{"datum":-0.622}}},
{"data":{"values":[{}]},"mark":{"type":"rect","color":"#2a2a2a"},
"encoding":{"x":{"datum":2017.492,"type":"quantitative","scale":{"domain":[2012.2,2025.262],"nice":false,"zero":false},"axis":null},"x2":{"datum":2017.723},"y":{"datum":-1.544,"type":"quantitative","scale":{"domain":[-0.9447,30.207],"nice":false,"zero":false,"reverse":true},"axis":null},"y2":{"datum":-0.622}}},
{"data":{"values":[{}]},"mark":{"type":"rect","color":"#4a4a4a"},
"encoding":{"x":{"datum":2018.246,"type":"quantitative","scale":{"domain":[2012.2,2025.262],"nice":false,"zero":false},"axis":null},"x2":{"datum":2019.0},"y":{"datum":-1.544,"type":"quantitative","scale":{"domain":[-0.9447,30.207],"nice":false,"zero":false,"reverse":true},"axis":null},"y2":{"datum":-0.622}}},
{"data":{"values":[{}]},"mark":{"type":"text","align":"left","baseline":"middle","fontSize":17,"color":"#f0a02c"},
"encoding":{"x":{"datum":2012.154,"type":"quantitative","scale":{"domain":[2012.2,2025.262],"nice":false,"zero":false},"axis":null},"y":{"datum":-1.08,"type":"quantitative","scale":{"domain":[-0.9447,30.207],"nice":false,"zero":false,"reverse":true},"axis":null},"text":{"value":"Medida"}}},
{"data":{"values":[{}]},"mark":{"type":"text","align":"left","baseline":"middle","fontSize":16,"color":"#111111"},
"encoding":{"x":{"datum":2013.385,"type":"quantitative","scale":{"domain":[2012.2,2025.262],"nice":false,"zero":false},"axis":null},"y":{"datum":-1.08,"type":"quantitative","scale":{"domain":[-0.9447,30.207],"nice":false,"zero":false,"reverse":true},"axis":null},"text":{"value":"BPA, aj+"}}},
{"data":{"values":[{}]},"mark":{"type":"text","align":"center","baseline":"middle","fontSize":9,"color":"#ffffff","font":"DejaVu Sans"},
"encoding":{"x":{"datum":2017.6,"type":"quantitative","scale":{"domain":[2012.2,2025.262],"nice":false,"zero":false},"axis":null},"y":{"datum":-1.08,"type":"quantitative","scale":{"domain":[-0.9447,30.207],"nice":false,"zero":false,"reverse":true},"axis":null},"text":{"value":"▾"}}},
{"data":{"values":[{}]},"mark":{"type":"text","align":"center","baseline":"middle","fontSize":17,"color":"#ffffff"},
"encoding":{"x":{"datum":2018.623,"type":"quantitative","scale":{"domain":[2012.2,2025.262],"nice":false,"zero":false},"axis":null},"y":{"datum":-1.08,"type":"quantitative","scale":{"domain":[-0.9447,30.207],"nice":false,"zero":false,"reverse":true},"axis":null},"text":{"value":"<"}}},
{"data":{"name":"tyears"},"mark":{"type":"text","align":"right","baseline":"middle","fontSize":16,"color":"#dedede","dx":-3},
"encoding":{"x":{"field":"yr","type":"quantitative","scale":{"domain":[2012.2,2025.262],"nice":false,"zero":false},"axis":null},"y":{"datum":0,"type":"quantitative","scale":{"domain":[-0.9447,30.207],"nice":false,"zero":false,"reverse":true},"axis":null},"text":{"field":"yr"}}},
{"data":{"name":"trows"},"mark":{"type":"text","align":"left","baseline":"middle","fontSize":16,"color":"#f0a02c"},
"encoding":{"x":{"datum":2012.154,"type":"quantitative","scale":{"domain":[2012.2,2025.262],"nice":false,"zero":false},"axis":null},"y":{"field":"q","type":"quantitative","scale":{"domain":[-0.9447,30.207],"nice":false,"zero":false,"reverse":true},"axis":null},"text":{"field":"lab"}}},
{"data":{"name":"tbl"},"mark":{"type":"text","align":"right","baseline":"middle","fontSize":16,"dx":-3},
"encoding":{"x":{"field":"yr","type":"quantitative","scale":{"domain":[2012.2,2025.262],"nice":false,"zero":false},"axis":null},"y":{"field":"q","type":"quantitative","scale":{"domain":[-0.9447,30.207],"nice":false,"zero":false,"reverse":true},"axis":null},"text":{"field":"val"},
"color":{"condition":{"test":"datum.yr <= 2016 || (datum.yr == 2017 && datum.q <= 2)","value":"#e8a03a"},"value":"#e6e6e6"}}},
{"data":{"values":[{}]},"mark":{"type":"point","shape":"M-1,0A1,0.53 0 1,1 1,0A1,0.53 0 1,1 -1,0Z","filled":false,"color":"#ee2020","strokeWidth":2,"size":1600,"opacity":1},
"encoding":{"x":{"datum":2013.738,"type":"quantitative","scale":{"domain":[2012.2,2025.262],"nice":false,"zero":false},"axis":null},"y":{"datum":2.074,"type":"quantitative","scale":{"domain":[-0.9447,30.207],"nice":false,"zero":false,"reverse":true},"axis":null}}},
{"data":{"values":[{}]},"mark":{"type":"point","shape":"M-1,0A1,0.6 0 1,1 1,0A1,0.6 0 1,1 -1,0Z","filled":false,"color":"#22dd22","strokeWidth":2,"size":1681,"opacity":1},
"encoding":{"x":{"datum":2015.731,"type":"quantitative","scale":{"domain":[2012.2,2025.262],"nice":false,"zero":false},"axis":null},"y":{"datum":0.92,"type":"quantitative","scale":{"domain":[-0.9447,30.207],"nice":false,"zero":false,"reverse":true},"axis":null}}},
{"data":{"name":"thickRed"},"mark":{"type":"rule","color":"#f01a1a","strokeWidth":5},
"encoding":{"x":{"field":"x","type":"quantitative","scale":{"domain":[2012.2,2025.262],"nice":false,"zero":false},"axis":null},"y":{"datum":0.576,"type":"quantitative","scale":{"domain":[-0.9447,30.207],"nice":false,"zero":false,"reverse":true},"axis":null},"y2":{"datum":3.6}}},
{"data":{"name":"thickRed"},"mark":{"type":"point","shape":"triangle-down","filled":true,"color":"#f01a1a","size":240,"opacity":1},
"encoding":{"x":{"field":"x","type":"quantitative","scale":{"domain":[2012.2,2025.262],"nice":false,"zero":false},"axis":null},"y":{"datum":3.894,"type":"quantitative","scale":{"domain":[-0.9447,30.207],"nice":false,"zero":false,"reverse":true},"axis":null}}},
{"data":{"name":"thickGreen"},"mark":{"type":"rule","color":"#22dd22","strokeWidth":5},
"encoding":{"x":{"field":"x","type":"quantitative","scale":{"domain":[2012.2,2025.262],"nice":false,"zero":false},"axis":null},"y":{"datum":0.576,"type":"quantitative","scale":{"domain":[-0.9447,30.207],"nice":false,"zero":false,"reverse":true},"axis":null},"y2":{"datum":3.6}}},
{"data":{"name":"thickGreen"},"mark":{"type":"point","shape":"triangle-down","filled":true,"color":"#22dd22","size":240,"opacity":1},
"encoding":{"x":{"field":"x","type":"quantitative","scale":{"domain":[2012.2,2025.262],"nice":false,"zero":false},"axis":null},"y":{"datum":3.894,"type":"quantitative","scale":{"domain":[-0.9447,30.207],"nice":false,"zero":false,"reverse":true},"axis":null}}},
{"data":{"name":"thinGreen"},"mark":{"type":"rule","color":"#22dd22","strokeWidth":2},
"encoding":{"x":{"field":"x","type":"quantitative","scale":{"domain":[2012.2,2025.262],"nice":false,"zero":false},"axis":null},"y":{"datum":0.668,"type":"quantitative","scale":{"domain":[-0.9447,30.207],"nice":false,"zero":false,"reverse":true},"axis":null},"y2":{"datum":3.95}}},
{"data":{"name":"thinGreen"},"mark":{"type":"point","shape":"triangle-down","filled":true,"color":"#22dd22","size":45,"opacity":1},
"encoding":{"x":{"field":"x","type":"quantitative","scale":{"domain":[2012.2,2025.262],"nice":false,"zero":false},"axis":null},"y":{"datum":4.078,"type":"quantitative","scale":{"domain":[-0.9447,30.207],"nice":false,"zero":false,"reverse":true},"axis":null}}},
{"data":{"values":[{}]},"mark":{"type":"rule","color":"#22dd22","strokeWidth":2},
"encoding":{"x":{"datum":2016.462,"type":"quantitative","scale":{"domain":[2012.2,2025.262],"nice":false,"zero":false},"axis":null},"y":{"datum":3.341,"type":"quantitative","scale":{"domain":[-0.9447,30.207],"nice":false,"zero":false,"reverse":true},"axis":null},"y2":{"datum":3.95}}},
{"data":{"values":[{}]},"mark":{"type":"point","shape":"triangle-down","filled":true,"color":"#22dd22","size":45,"opacity":1},
"encoding":{"x":{"datum":2016.462,"type":"quantitative","scale":{"domain":[2012.2,2025.262],"nice":false,"zero":false},"axis":null},"y":{"datum":4.078,"type":"quantitative","scale":{"domain":[-0.9447,30.207],"nice":false,"zero":false,"reverse":true},"axis":null}}},
{"data":{"values":[{}]},"mark":{"type":"rule","color":"#f01a1a","strokeWidth":2},
"encoding":{"x":{"datum":2016.426,"type":"quantitative","scale":{"domain":[2012.2,2025.262],"nice":false,"zero":false},"axis":null},"y":{"datum":0.668,"type":"quantitative","scale":{"domain":[-0.9447,30.207],"nice":false,"zero":false,"reverse":true},"axis":null},"y2":{"datum":2.3}}},
{"data":{"values":[{}]},"mark":{"type":"point","shape":"triangle-down","filled":true,"color":"#f01a1a","size":45,"opacity":1},
"encoding":{"x":{"datum":2016.426,"type":"quantitative","scale":{"domain":[2012.2,2025.262],"nice":false,"zero":false},"axis":null},"y":{"datum":2.465,"type":"quantitative","scale":{"domain":[-0.9447,30.207],"nice":false,"zero":false,"reverse":true},"axis":null}}},
{"data":{"values":[{}]},"mark":{"type":"text","align":"center","baseline":"middle","fontSize":27,"fontWeight":"bold","color":"#f01a1a"},
"encoding":{"x":{"datum":2013.154,"type":"quantitative","scale":{"domain":[2012.2,2025.262],"nice":false,"zero":false},"axis":null},"y":{"datum":2.074,"type":"quantitative","scale":{"domain":[-0.9447,30.207],"nice":false,"zero":false,"reverse":true},"axis":null},"text":{"value":"A"}}},
{"data":{"values":[{}]},"mark":{"type":"text","align":"center","baseline":"middle","fontSize":23,"fontWeight":"bold","color":"#22dd22"},
"encoding":{"x":{"datum":2015.154,"type":"quantitative","scale":{"domain":[2012.2,2025.262],"nice":false,"zero":false},"axis":null},"y":{"datum":1.014,"type":"quantitative","scale":{"domain":[-0.9447,30.207],"nice":false,"zero":false,"reverse":true},"axis":null},"text":{"value":"B"}}},
{"data":{"values":[{}]},"mark":{"type":"text","align":"center","baseline":"middle","fontSize":22,"color":"#f01a1a"},
"encoding":{"x":{"datum":2016.415,"type":"quantitative","scale":{"domain":[2012.2,2025.262],"nice":false,"zero":false},"axis":null},"y":{"datum":1.452,"type":"quantitative","scale":{"domain":[-0.9447,30.207],"nice":false,"zero":false,"reverse":true},"axis":null},"text":{"value":"a"}}},
{"data":{"values":[{}]},"mark":{"type":"text","align":"center","baseline":"middle","fontSize":18,"color":"#22dd22"},
"encoding":{"x":{"datum":2016.39,"type":"quantitative","scale":{"domain":[2012.2,2025.262],"nice":false,"zero":false},"axis":null},"y":{"datum":2.788,"type":"quantitative","scale":{"domain":[-0.9447,30.207],"nice":false,"zero":false,"reverse":true},"axis":null},"text":{"value":"b"}}}
]
}
],
"resolve":{"scale":{"x":"independent","y":"independent"}}
}
